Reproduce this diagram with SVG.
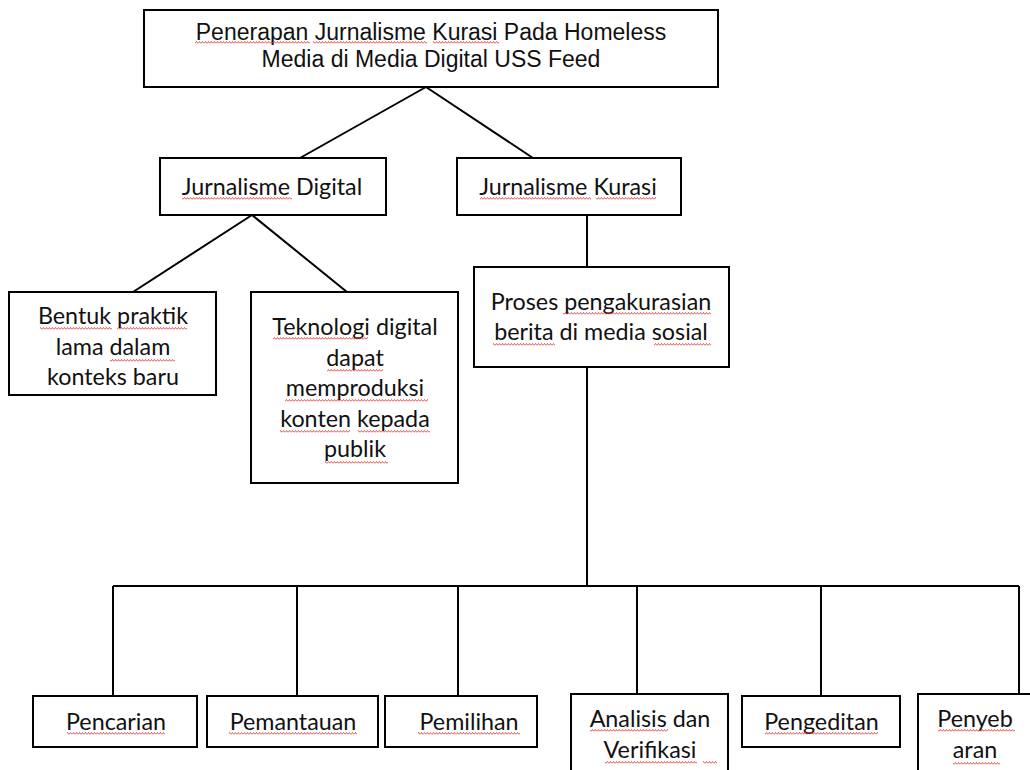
<svg xmlns="http://www.w3.org/2000/svg" width="1030" height="770" viewBox="0 0 1030 770">
<style>
.box{fill:#fff;stroke:#000;stroke-width:2}
.ln{fill:none;stroke:#000;stroke-width:2}
.t1{font-family:"Liberation Sans",Arial,sans-serif;font-size:23px;fill:#111;text-anchor:middle}
.t2{font-family:Lato,"Open Sans",sans-serif;font-size:23.3px;fill:#111;text-anchor:middle}
.sq{fill:url(#zz)}
</style>
<defs>
<pattern id="zz" width="3" height="3" patternUnits="userSpaceOnUse"><path d="M0 2.5 L1.5 0.5 L3 2.5" fill="none" stroke="#e0302a" stroke-width="0.8"/></pattern>
</defs>
<rect width="1030" height="770" fill="#fff"/>
<g id="connectors">
<path class="ln" d="M426 87 L300 158 M426 87 L533 158"/>
<path class="ln" d="M252 215 L133 292 M252 215 L347 292"/>
<path class="ln" d="M587 215 L587 267 M587 367 L587 586"/>
<path class="ln" d="M113 586 L1019 586 M113 586 L113 696 M297 586 L297 696 M458 586 L458 696 M637 586 L637 694 M821 586 L821 696 M1019 586 L1019 694"/>
</g>
<g id="n-root">
<rect class="box" x="144" y="10" width="574" height="77"/>
<text class="t1" x="431" y="39.5">Penerapan Jurnalisme Kurasi Pada Homeless</text>
<text class="t1" x="431" y="66.5">Media di Media Digital USS Feed</text>
<rect class="sq" x="195" width="115" height="3" transform="translate(0,41)"/>
<rect class="sq" x="313" width="114" height="3" transform="translate(0,41)"/>
<rect class="sq" x="433" width="66" height="3" transform="translate(0,41)"/>
</g>
<g id="n-jd">
<rect class="box" x="160" y="158" width="226" height="57"/>
<text class="t2" x="272" y="195">Jurnalisme Digital</text>
<rect class="sq" x="182" width="110" height="3" transform="translate(0,197)"/>
</g>
<g id="n-jk">
<rect class="box" x="457" y="158" width="224" height="57"/>
<text class="t2" x="568" y="195">Jurnalisme Kurasi</text>
<rect class="sq" x="480" width="111" height="3" transform="translate(0,197)"/>
<rect class="sq" x="596" width="60" height="3" transform="translate(0,197)"/>
</g>
<g id="n-bentuk">
<rect class="box" x="9" y="292" width="207" height="103"/>
<text class="t2" x="113" y="324">Bentuk praktik</text>
<text class="t2" x="113" y="355">lama dalam</text>
<text class="t2" x="113" y="385">konteks baru</text>
<rect class="sq" x="40" width="72" height="3" transform="translate(0,327)"/>
<rect class="sq" x="117" width="70" height="3" transform="translate(0,327)"/>
<rect class="sq" x="110" width="65" height="3" transform="translate(0,359)"/>
</g>
<g id="n-teknologi">
<rect class="box" x="251" y="292" width="207" height="191"/>
<text class="t2" x="355" y="335">Teknologi digital</text>
<text class="t2" x="355" y="365.5">dapat</text>
<text class="t2" x="355" y="396">memproduksi</text>
<text class="t2" x="355" y="426.5">konten kepada</text>
<text class="t2" x="355" y="457">publik</text>
<rect class="sq" x="273" width="95" height="3" transform="translate(0,337)"/>
<rect class="sq" x="327" width="56" height="3" transform="translate(0,369)"/>
<rect class="sq" x="285" width="143" height="3" transform="translate(0,399)"/>
<rect class="sq" x="280" width="70" height="3" transform="translate(0,430)"/>
<rect class="sq" x="358" width="72" height="3" transform="translate(0,430)"/>
<rect class="sq" x="325" width="63" height="3" transform="translate(0,461)"/>
</g>
<g id="n-proses">
<rect class="box" x="474" y="267" width="255" height="100"/>
<text class="t2" x="601" y="310">Proses pengakurasian</text>
<text class="t2" x="601" y="340">berita di media sosial</text>
<rect class="sq" x="563" width="148" height="3" transform="translate(0,312)"/>
<rect class="sq" x="493" width="62" height="3" transform="translate(0,343)"/>
<rect class="sq" x="654" width="57" height="3" transform="translate(0,343)"/>
</g>
<g id="n-pencarian">
<rect class="box" x="33" y="696" width="164" height="51"/>
<text class="t2" x="116" y="730">Pencarian</text>
<rect class="sq" x="67" width="98" height="3" transform="translate(0,732)"/>
</g>
<g id="n-pemantauan">
<rect class="box" x="207" y="696" width="171" height="51"/>
<text class="t2" x="293" y="730">Pemantauan</text>
<rect class="sq" x="229" width="128" height="3" transform="translate(0,732)"/>
</g>
<g id="n-pemilihan">
<rect class="box" x="385" y="696" width="152" height="51"/>
<text class="t2" x="469" y="730">Pemilihan</text>
<rect class="sq" x="418" width="102" height="3" transform="translate(0,732)"/>
</g>
<g id="n-analisis">
<rect class="box" x="571" y="694" width="157" height="90"/>
<text class="t2" x="650" y="727">Analisis dan</text>
<text class="t2" x="650" y="758">Verifikasi</text>
<rect class="sq" x="590" width="78" height="3" transform="translate(0,729)"/>
<rect class="sq" x="605" width="92" height="3" transform="translate(0,761)"/>
<rect class="sq" x="703" width="14" height="3" transform="translate(0,761)"/>
</g>
<g id="n-pengeditan">
<rect class="box" x="742" y="696" width="158" height="51"/>
<text class="t2" x="821.5" y="730">Pengeditan</text>
<rect class="sq" x="765" width="113" height="3" transform="translate(0,732)"/>
</g>
<g id="n-penyebaran">
<rect class="box" x="918" y="694" width="116" height="90"/>
<text class="t2" x="975" y="727">Penyeb</text>
<text class="t2" x="975" y="758">aran</text>
<rect class="sq" x="938" width="77" height="3" transform="translate(0,729)"/>
<rect class="sq" x="953" width="47" height="3" transform="translate(0,762)"/>
</g>
</svg>
